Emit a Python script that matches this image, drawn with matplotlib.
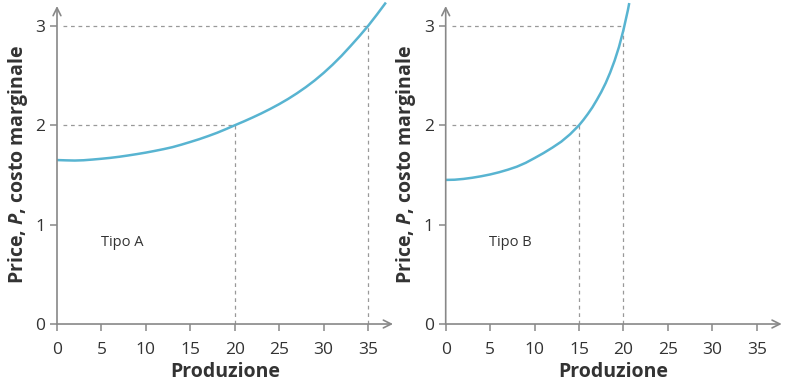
import matplotlib
import matplotlib.pyplot as plt

matplotlib.use("Agg")

# Tipo A: costo marginale
prod_a = [0, 1, 2, 3, 4, 5, 6, 7, 8, 9, 10, 11, 12, 13, 14, 15, 16, 17, 18, 19,
          20, 21, 22, 23, 24, 25, 26, 27, 28, 29, 30, 31, 32, 33, 34, 35, 36, 37]
cost_a = [1.65, 1.647, 1.645, 1.648, 1.655, 1.663, 1.672, 1.683, 1.696, 1.71,
          1.725, 1.742, 1.76, 1.78, 1.805, 1.832, 1.86, 1.891, 1.924, 1.961,
          2.0, 2.038, 2.078, 2.12, 2.165, 2.213, 2.265, 2.322, 2.384, 2.452,
          2.527, 2.609, 2.698, 2.795, 2.895, 3.0, 3.115, 3.235]

# Tipo B
prod_b = [0, 1, 2, 3, 4, 5, 6, 7, 8, 9, 10, 11, 12, 13, 14, 15, 15.5, 16, 16.5,
          17, 17.5, 18, 18.5, 19, 19.5, 20, 20.5, 20.65]
cost_b = [1.45, 1.452, 1.46, 1.472, 1.487, 1.505, 1.527, 1.553, 1.583, 1.622,
          1.67, 1.72, 1.775, 1.835, 1.91, 2.0, 2.055, 2.115, 2.18, 2.255, 2.335,
          2.425, 2.53, 2.65, 2.79, 2.96, 3.16, 3.23]

# punti evidenziati (produzione, prezzo)
guides_a = [(20, 2), (35, 3)]
guides_b = [(15, 2), (20, 3)]

x_ticks = [0, 5, 10, 15, 20, 25, 30, 35]
y_ticks = [0, 1, 2, 3]

plt.rcParams["font.family"] = ["Open Sans", "DejaVu Sans"]
plt.rcParams["mathtext.fontset"] = "custom"
plt.rcParams["mathtext.bfit"] = "Open Sans:italic:bold"

CURVE = "#58b4d1"
AXIS = "#888888"
TEXT = "#333333"

fig = plt.figure(figsize=(8.09, 3.86), dpi=100)
ax_a = fig.add_axes([57 / 809, 0.1606, 336 / 809, 0.8238])
ax_b = fig.add_axes([445.7 / 809, 0.1606, 336 / 809, 0.8238])


def draw_panel(ax, xs, ys, guides, label):
    ax.set_xlim(0, 37.8)
    ax.set_ylim(0, 3.2)
    for s in ax.spines.values():
        s.set_visible(False)
    ax.annotate("", xy=(37.8, 0), xytext=(0, 0), annotation_clip=False,
                arrowprops=dict(arrowstyle="->", color=AXIS, lw=1.2,
                                shrinkA=0, shrinkB=0, mutation_scale=14))
    ax.annotate("", xy=(0, 3.2), xytext=(0, 0), annotation_clip=False,
                arrowprops=dict(arrowstyle="->", color=AXIS, lw=1.2,
                                shrinkA=0, shrinkB=0, mutation_scale=14))
    for gx, gy in guides:
        ax.plot([0.7, gx], [gy, gy], ls=(0, (3, 3)), color="#999999", lw=0.9)
        ax.plot([gx, gx], [0, gy], ls=(0, (3, 3)), color="#999999", lw=0.9)
    ax.plot(xs, ys, color=CURVE, lw=1.8, clip_on=False, solid_capstyle="butt")
    ax.set_xticks(x_ticks)
    ax.set_yticks(y_ticks)
    ax.tick_params(colors=AXIS, labelcolor=TEXT, labelsize=12.5, length=5, width=1.1)
    ax.tick_params(axis="x", pad=8)
    ax.set_xlabel("Produzione", fontsize=14, fontweight="bold", color=TEXT, labelpad=3)
    ax.set_ylabel(r"Price, $\mathbfit{P}$, costo marginale", fontsize=14,
                  fontweight="bold", color=TEXT, labelpad=4)
    ax.text(4.9, 0.82, label, fontsize=10.5, color=TEXT, va="center")


draw_panel(ax_a, prod_a, cost_a, guides_a, "Tipo A")
draw_panel(ax_b, prod_b, cost_b, guides_b, "Tipo B")

fig.savefig("out.png", dpi=100)
